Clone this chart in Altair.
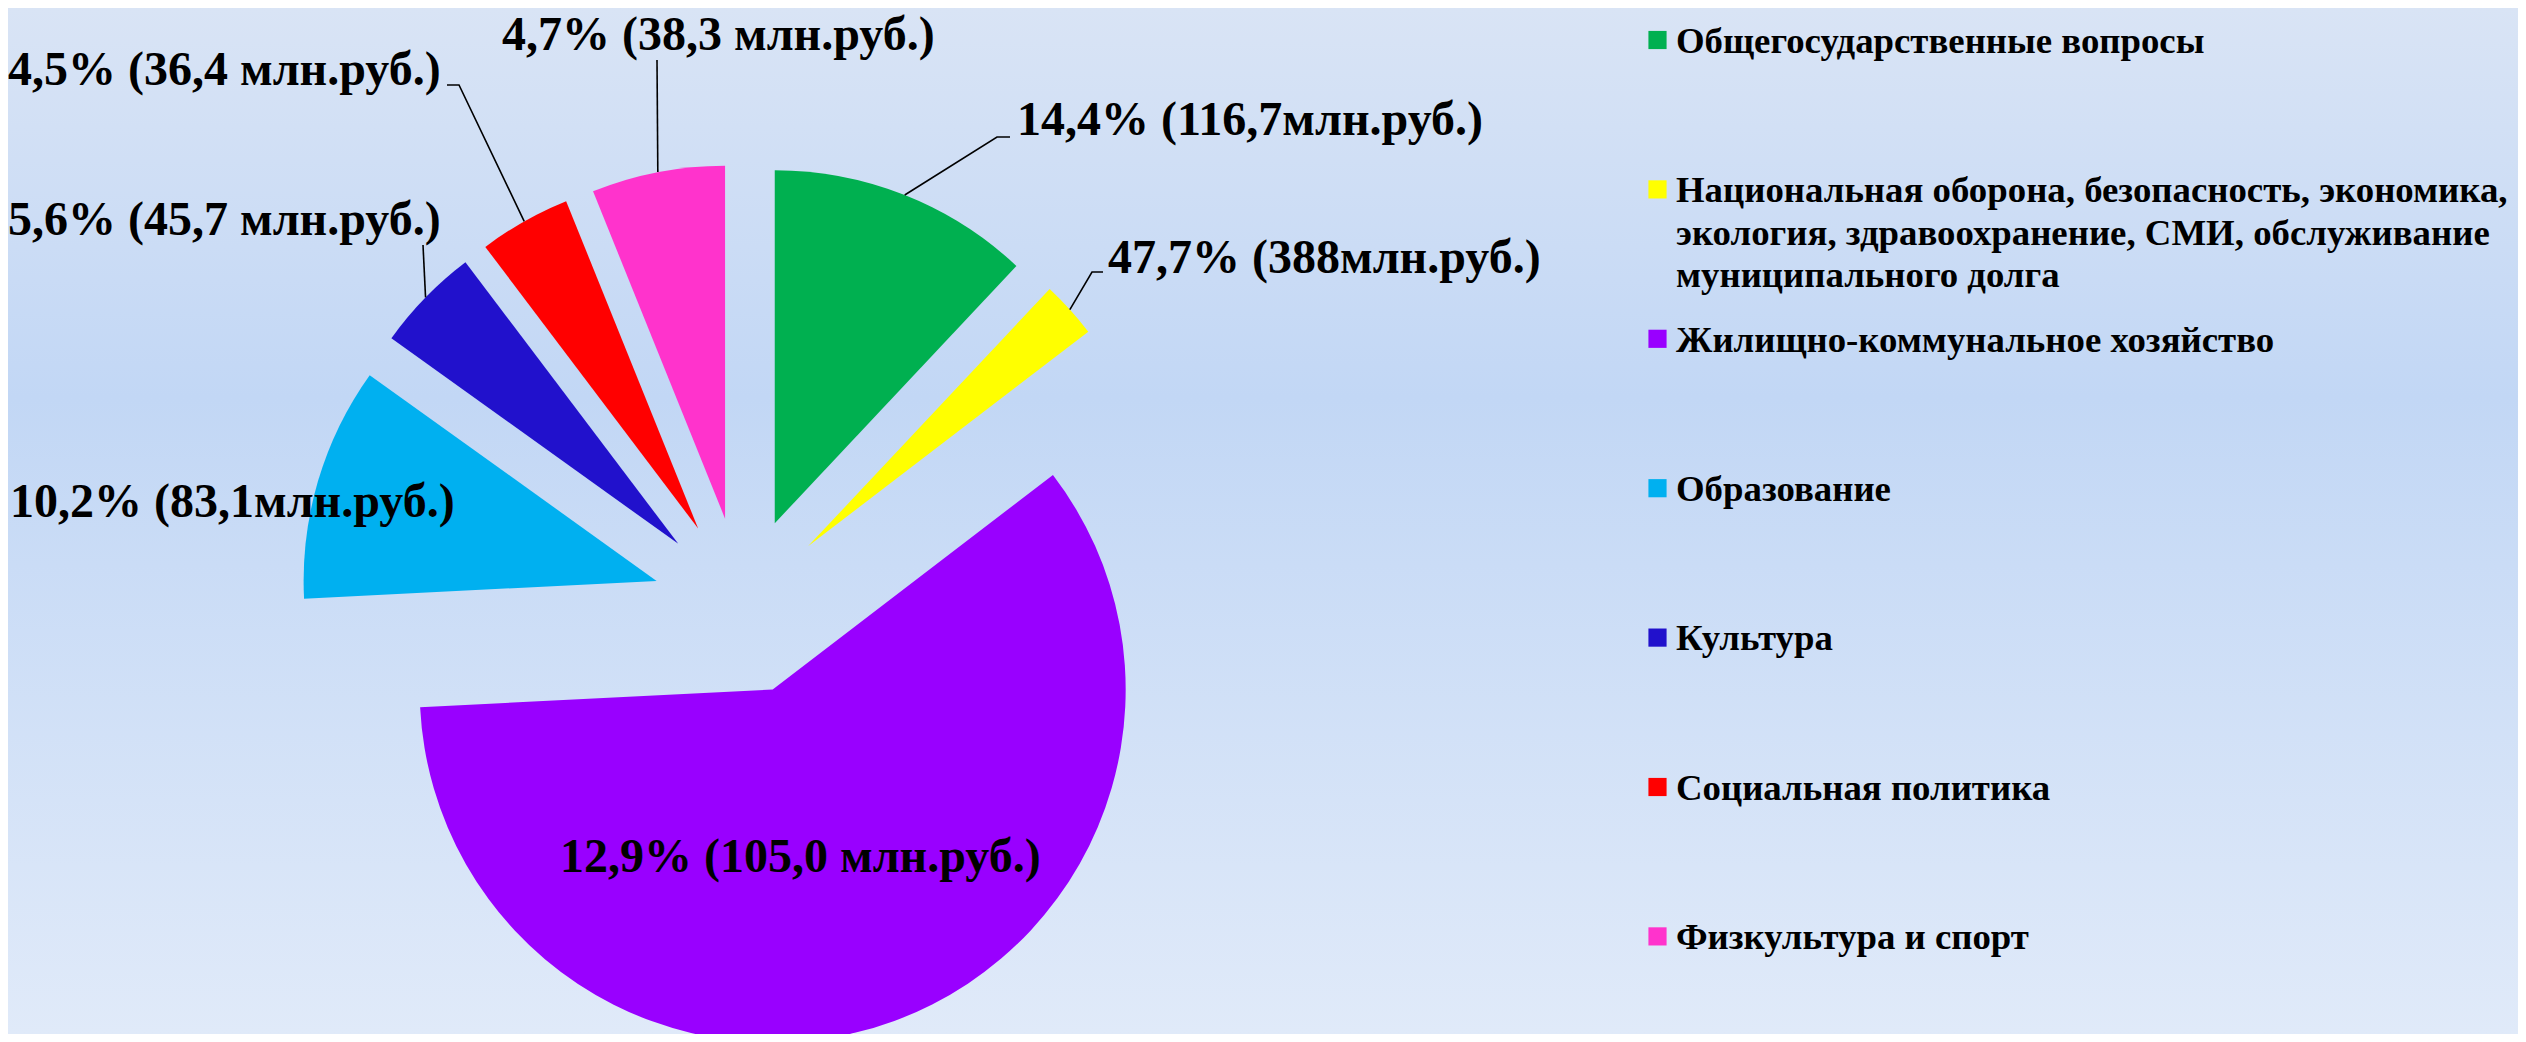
import math
import altair as alt
import pandas as pd

# ---------------- data ----------------
categories = [
    "Общегосударственные вопросы",
    "Национальная оборона, безопасность, экономика,\nэкология, здравоохранение, СМИ, обслуживание\nмуниципального долга",
    "Жилищно-коммунальное хозяйство",
    "Образование",
    "Культура",
    "Социальная политика",
    "Физкультура и спорт",
]
# share of the circle each slice occupies in the picture, %
shares = [12.0, 2.6, 59.6, 10.7, 4.8, 4.2, 6.1]
# data labels as printed on the chart
labels = [
    "14,4% (116,7млн.руб.)",
    "47,7% (388млн.руб.)",
    "12,9% (105,0 млн.руб.)",
    "10,2% (83,1млн.руб.)",
    "5,6% (45,7 млн.руб.)",
    "4,5% (36,4 млн.руб.)",
    "4,7% (38,3 млн.руб.)",
]
colors = ["#00B050", "#FFFF00", "#9900FF", "#00B0F0", "#2111CC", "#FF0000", "#FF33CC"]

# ---------------- layout / style ----------------
W, H = 2510, 1026
CX, CY = 734, 598          # centre of the (un-exploded) pie
R = 353                    # pie radius
EXPLODE = 89               # distance every slice is pulled out
TOTAL = sum(shares)
FONT = "Liberation Serif"
LABEL_SIZE = 48
LEGEND_SIZE = 36.8

# label anchors (left, baseline) and leader-line bends, per slice
label_x = [1009, 1100, 552, 2, 0, 0, 494]
label_y = [127, 265, 864, 509, 227, 77, 42]
leader_bends = {
    0: [(989, 129), (1002, 129)],
    1: [(1084, 264), (1095, 264)],
    4: [(415, 237)],
    5: [(451, 77), (439, 77)],
    6: [(649, 52)],
}
LEG_SQ_X, LEG_TX_X = 1649.5, 1668
LEG_Y0, LEG_STEP = 32, 149.4

# ---------------- tables ----------------
pie_df = pd.DataFrame({"category": categories, "share": shares, "order": list(range(len(categories)))})

# leader lines start at the middle of each slice's outer arc
rows = []
cum = 0.0
for i, s in enumerate(shares):
    mid = (cum + s / 2) / TOTAL * 2 * math.pi
    cum += s
    if i in leader_bends:
        r = EXPLODE + R
        pts = [(CX + r * math.sin(mid), CY - r * math.cos(mid))] + leader_bends[i]
        for k, (px, py) in enumerate(pts):
            rows.append({"slice": i, "seq": k, "px": px, "py": py})
leader_df = pd.DataFrame(rows)

label_df = pd.DataFrame({"label": labels, "lx": label_x, "ly": label_y})
legend_df = pd.DataFrame({"category": categories, "idx": list(range(len(categories)))})

# ---------------- chart ----------------
background = alt.Chart(pd.DataFrame({"a": [0]})).mark_rect(
    color=alt.LinearGradient(
        gradient="linear",
        stops=[
            alt.GradientStop(color="#D9E4F5", offset=0),
            alt.GradientStop(color="#C2D7F5", offset=0.38),
            alt.GradientStop(color="#E0EAF9", offset=1),
        ],
        x1=0, x2=0, y1=0, y2=1,
    )
).encode(x=alt.value(0), x2=alt.value(W), y=alt.value(0), y2=alt.value(H))

color_scale = alt.Scale(domain=categories, range=colors)

pie = alt.Chart(pie_df).transform_window(
    cum="sum(share)", sort=[alt.SortField("order")], frame=[None, 0]
).transform_calculate(
    c0="datum.cum - datum.share",
    mid=f"(datum.cum - datum.share / 2) / {TOTAL} * 2 * PI",
).transform_calculate(
    cx=f"{CX} + {EXPLODE} * sin(datum.mid)",
    cy=f"{CY} - {EXPLODE} * cos(datum.mid)",
).mark_arc(radius=R).encode(
    theta=alt.Theta("c0:Q", scale=alt.Scale(domain=[0, TOTAL], range=[0, 2 * math.pi]), stack=None),
    theta2="cum:Q",
    x=alt.X("cx:Q", scale=None, axis=None),
    y=alt.Y("cy:Q", scale=None, axis=None),
    color=alt.Color("category:N", scale=color_scale, legend=None),
)

leaders = alt.Chart(leader_df).mark_line(color="black", strokeWidth=1.6).encode(
    x=alt.X("px:Q", scale=None, axis=None),
    y=alt.Y("py:Q", scale=None, axis=None),
    detail="slice:N",
    order="seq:Q",
)

data_labels = alt.Chart(label_df).mark_text(
    align="left", baseline="alphabetic", font=FONT, fontWeight="bold",
    fontSize=LABEL_SIZE, color="black"
).encode(
    x=alt.X("lx:Q", scale=None, axis=None),
    y=alt.Y("ly:Q", scale=None, axis=None),
    text="label:N",
)

legend_base = alt.Chart(legend_df).transform_calculate(
    ly=f"{LEG_Y0} + datum.idx * {LEG_STEP}"
)
legend_squares = legend_base.mark_square(size=330, opacity=1, filled=True).encode(
    x=alt.value(LEG_SQ_X),
    y=alt.Y("ly:Q", scale=None, axis=None),
    color=alt.Color("category:N", scale=color_scale, legend=None),
)
legend_text = legend_base.transform_calculate(
    ty="datum.ly + 12.7"
).mark_text(
    align="left", baseline="alphabetic", font=FONT, fontWeight="bold", fontSize=LEGEND_SIZE,
    lineBreak="\n", lineHeight=42.5, color="black",
).encode(
    x=alt.value(LEG_TX_X),
    y=alt.Y("ty:Q", scale=None, axis=None),
    text="category:N",
)

chart = alt.layer(
    background, pie, leaders, data_labels, legend_squares, legend_text
).properties(
    width=W, height=H, padding=0, autosize=alt.AutoSizeParams(type="none")
).configure_view(stroke=None)

chart.save("out.html", embed_options={"renderer": "svg", "actions": False})
